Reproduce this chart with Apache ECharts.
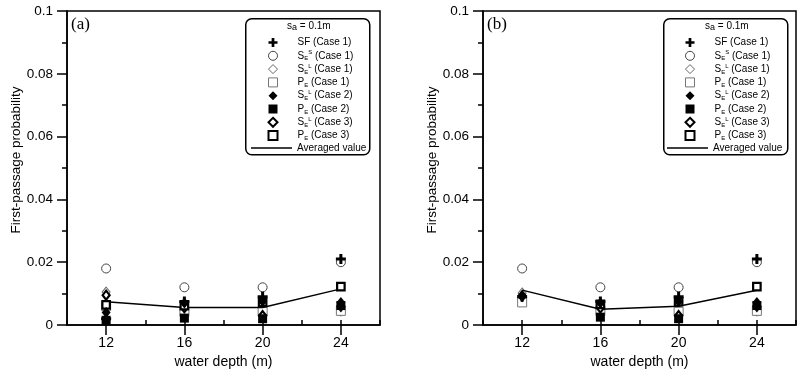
<!DOCTYPE html>
<html>
<head>
<meta charset="utf-8">
<script src="https://cdn.jsdelivr.net/npm/echarts@6/dist/echarts.min.js"></script>
<style>html,body{margin:0;padding:0;background:#fff}#c{width:810px;height:380px}</style>
</head>
<body>
<div id="c"></div>
<script>
// ---- data ----
const depths = [12, 16, 20, 24];
const seriesNames = ['SF (Case 1)', 'SES (Case 1)', 'SEL (Case 1)', 'PE (Case 1)', 'SEL (Case 2)', 'PE (Case 2)', 'SEL (Case 3)', 'PE (Case 3)'];
const avgName = 'Averaged value';

// panel (a)
const a_SF1   = [0.002, 0.0075, 0.009, 0.021];
const a_SES1  = [0.018, 0.012, 0.012, 0.020];
const a_SEL1  = [0.0105, 0.005, 0.0042, 0.0045];
const a_PE1   = [0.006, 0.0042, 0.0042, 0.0045];
const a_SEL2  = [0.004, 0.007, 0.0075, 0.0072];
const a_PE2   = [0.0015, 0.0022, 0.002, 0.0062];
const a_SEL3  = [0.0095, 0.0055, 0.003, 0.006];
const a_PE3   = [0.0064, 0.0062, 0.0072, 0.0122];
const a_AVG   = [0.0074, 0.0056, 0.0056, 0.0115];

// panel (b)
const b_SF1   = [0.009, 0.0075, 0.009, 0.021];
const b_SES1  = [0.018, 0.012, 0.012, 0.020];
const b_SEL1  = [0.0102, 0.0045, 0.0042, 0.0045];
const b_PE1   = [0.0072, 0.0045, 0.0042, 0.0045];
const b_SEL2  = [0.009, 0.007, 0.0075, 0.0072];
const b_PE2   = [null, 0.0025, 0.002, 0.0062];
const b_SEL3  = [0.0093, 0.0054, 0.003, 0.006];
const b_PE3   = [null, 0.0066, 0.0074, 0.0122];
const b_AVG   = [0.0111, 0.005, 0.006, 0.0111];

const xTickValues = [12, 16, 20, 24];

// ---- styles ----
const FONT = 'Liberation Sans';
const plusPath = 'path://M3.5,0H6.5V3.5H10V6.5H6.5V10H3.5V6.5H0V3.5H3.5Z';
const symStyles = [
  {symbol: plusPath, size: 10, color: '#000', borderColor: '#000', borderWidth: 0, z: 9},
  {symbol: 'circle', size: 9, color: '#fff', borderColor: '#444', borderWidth: 1, z: 3},
  {symbol: 'diamond', size: [8, 10], color: '#fff', borderColor: '#666', borderWidth: 1, z: 3},
  {symbol: 'rect', size: 9, color: '#fff', borderColor: '#777', borderWidth: 1, z: 3},
  {symbol: 'diamond', size: [9, 11], color: '#000', borderColor: '#000', borderWidth: 0, z: 6},
  {symbol: 'rect', size: 9, color: '#000', borderColor: '#000', borderWidth: 0, z: 6},
  {symbol: 'diamond', size: [7, 9], color: '#fff', borderColor: '#000', borderWidth: 2.2, z: 5},
  {symbol: 'rect', size: 7.5, color: '#fff', borderColor: '#000', borderWidth: 2.2, z: 5}
];
const panels = [
  {vals: [a_SF1, a_SES1, a_SEL1, a_PE1, a_SEL2, a_PE2, a_SEL3, a_PE3], avg: a_AVG},
  {vals: [b_SF1, b_SES1, b_SEL1, b_PE1, b_SEL2, b_PE2, b_SEL3, b_PE3], avg: b_AVG}
];
const grids = [
  {left: 67, right: 430, top: 11, bottom: 55},
  {left: 483, right: 14, top: 11, bottom: 55}
];

const axisLineStyle = {color: '#000', width: 1.5};
const xAxes = [], yAxes = [], series = [];
grids.forEach((g, i) => {
  xAxes.push({
    type: 'value', gridIndex: i, min: 10, max: 26, interval: 2,
    axisLine: {onZero: false, lineStyle: axisLineStyle},
    axisTick: {customValues: xTickValues, length: 10, lineStyle: axisLineStyle},
    axisLabel: {customValues: xTickValues, fontSize: 14, color: '#000', fontFamily: FONT, margin: 11},
    splitLine: {show: false},
    name: 'water depth (m)', nameLocation: 'middle', nameGap: 28,
    nameTextStyle: {fontSize: 14, color: '#000', fontFamily: FONT}
  });
  xAxes.push({
    type: 'value', gridIndex: i, min: 10, max: 26, interval: 2,
    axisLine: {show: false},
    axisTick: {length: 5, lineStyle: axisLineStyle},
    axisLabel: {show: false},
    splitLine: {show: false}
  });
  yAxes.push({
    type: 'value', gridIndex: i, min: 0, max: 0.1, interval: 0.02,
    axisLine: {lineStyle: axisLineStyle},
    axisTick: {length: 10, lineStyle: axisLineStyle},
    minorTick: {show: true, splitNumber: 2, length: 5, lineStyle: axisLineStyle},
    axisLabel: {fontSize: 13.5, color: '#000', fontFamily: FONT, margin: 14,
      formatter: v => String(+v.toFixed(3))},
    splitLine: {show: false},
    minorSplitLine: {show: false},
    name: 'First-passage probability', nameLocation: 'middle', nameGap: 44,
    nameTextStyle: {fontSize: 13.5, color: '#000', fontFamily: FONT, padding: [0, 0, 0, 16]}
  });
  const p = panels[i];
  seriesNames.forEach((nm, k) => {
    const st = symStyles[k];
    series.push({
      type: 'scatter', name: nm, xAxisIndex: i * 2, yAxisIndex: i,
      symbol: st.symbol, symbolSize: st.size,
      itemStyle: {color: st.color, borderColor: st.borderColor, borderWidth: st.borderWidth, opacity: 1},
      data: depths.map((d, j) => [d, p.vals[k][j] == null ? '-' : p.vals[k][j]]),
      z: st.z
    });
  });
  series.push({
    type: 'line', name: avgName, xAxisIndex: i * 2, yAxisIndex: i,
    symbol: 'none', lineStyle: {color: '#000', width: 1.5}, itemStyle: {color: '#000'},
    data: depths.map((d, j) => [d, p.avg[j]]), z: 4
  });
});

const LF = 10;
const rich = {
  m: {fontSize: LF, fontFamily: FONT, color: '#000', lineHeight: 12},
  sub: {fontSize: 6, fontFamily: FONT, color: '#000', lineHeight: 8, verticalAlign: 'bottom'},
  sup: {fontSize: 6, fontFamily: FONT, color: '#000', lineHeight: 8, verticalAlign: 'top'}
};
function fmt(name) {
  const m = name.match(/^(SES|SEL|PE|SF)( \(Case \d\))$/);
  if (!m) return '{m|' + name + '}';
  if (m[1] === 'SF') return '{m|SF' + m[2] + '}';
  if (m[1] === 'SES') return '{m|S}{sub|E}{sup|S}{m|' + m[2] + '}';
  if (m[1] === 'SEL') return '{m|S}{sub|E}{sup|L}{m|' + m[2] + '}';
  return '{m|P}{sub|E}{m|' + m[2] + '}';
}
const legendData = seriesNames.map((nm, k) => ({
  name: nm,
  itemStyle: {color: symStyles[k].color, borderColor: symStyles[k].borderColor, borderWidth: Math.min(symStyles[k].borderWidth, 2)}
}));
const legends = [];
const boxes = [{x: 245, sym: 272, line: 251, sa: 287, lab: '(a)', labX: 71}, {x: 663, sym: 689, line: 667, sa: 705, lab: '(b)', labX: 487}];
boxes.forEach(b => {
  legends.push({
    orient: 'vertical', left: b.sym - 4.5, top: 36.5, padding: 0, itemWidth: 9, itemHeight: 9, itemGap: 1.3,
    selectedMode: false, data: legendData, formatter: fmt,
    textStyle: {rich: rich, fontSize: LF, fontFamily: FONT, lineHeight: 12, padding: [0, 0, 0, 15]}
  });
  legends.push({
    orient: 'vertical', left: b.line, top: 142, padding: 0, itemWidth: 41, itemHeight: 1.5,
    selectedMode: false, data: [{name: avgName, icon: 'rect', itemStyle: {color: '#000', borderWidth: 0}}], formatter: fmt,
    textStyle: {rich: rich, fontSize: LF, fontFamily: FONT, lineHeight: 12}
  });
});

const graphics = [];
boxes.forEach(b => {
  graphics.push({type: 'rect', left: b.x, top: 18, shape: {width: 124, height: 136, r: 6},
    style: {fill: '#fff', stroke: '#000', lineWidth: 1.5}, z: 1});
  graphics.push({type: 'text', left: b.sa, top: 21, z: 10,
    style: {text: '{m|s}{sub|a}{m| = 0.1m}', rich: {
      m: {fontSize: LF, fontFamily: FONT, fill: '#000', lineHeight: 12},
      sub: {fontSize: 9, fontFamily: FONT, fill: '#000', lineHeight: 9, verticalAlign: 'bottom'}}}});
  graphics.push({type: 'text', left: b.labX, top: 16, z: 10,
    style: {text: b.lab, fontSize: 17, fontFamily: 'Liberation Serif', fill: '#000'}});
});

const chart = echarts.init(document.getElementById('c'), null, {renderer: 'canvas'});
chart.setOption({
  animation: false,
  backgroundColor: '#fff',
  grid: grids.map(g => Object.assign({show: true, borderColor: '#000', borderWidth: 1.5, backgroundColor: 'transparent'}, g)),
  xAxis: xAxes,
  yAxis: yAxes,
  legend: legends,
  graphic: graphics,
  series: series
});
</script>
</body>
</html>
